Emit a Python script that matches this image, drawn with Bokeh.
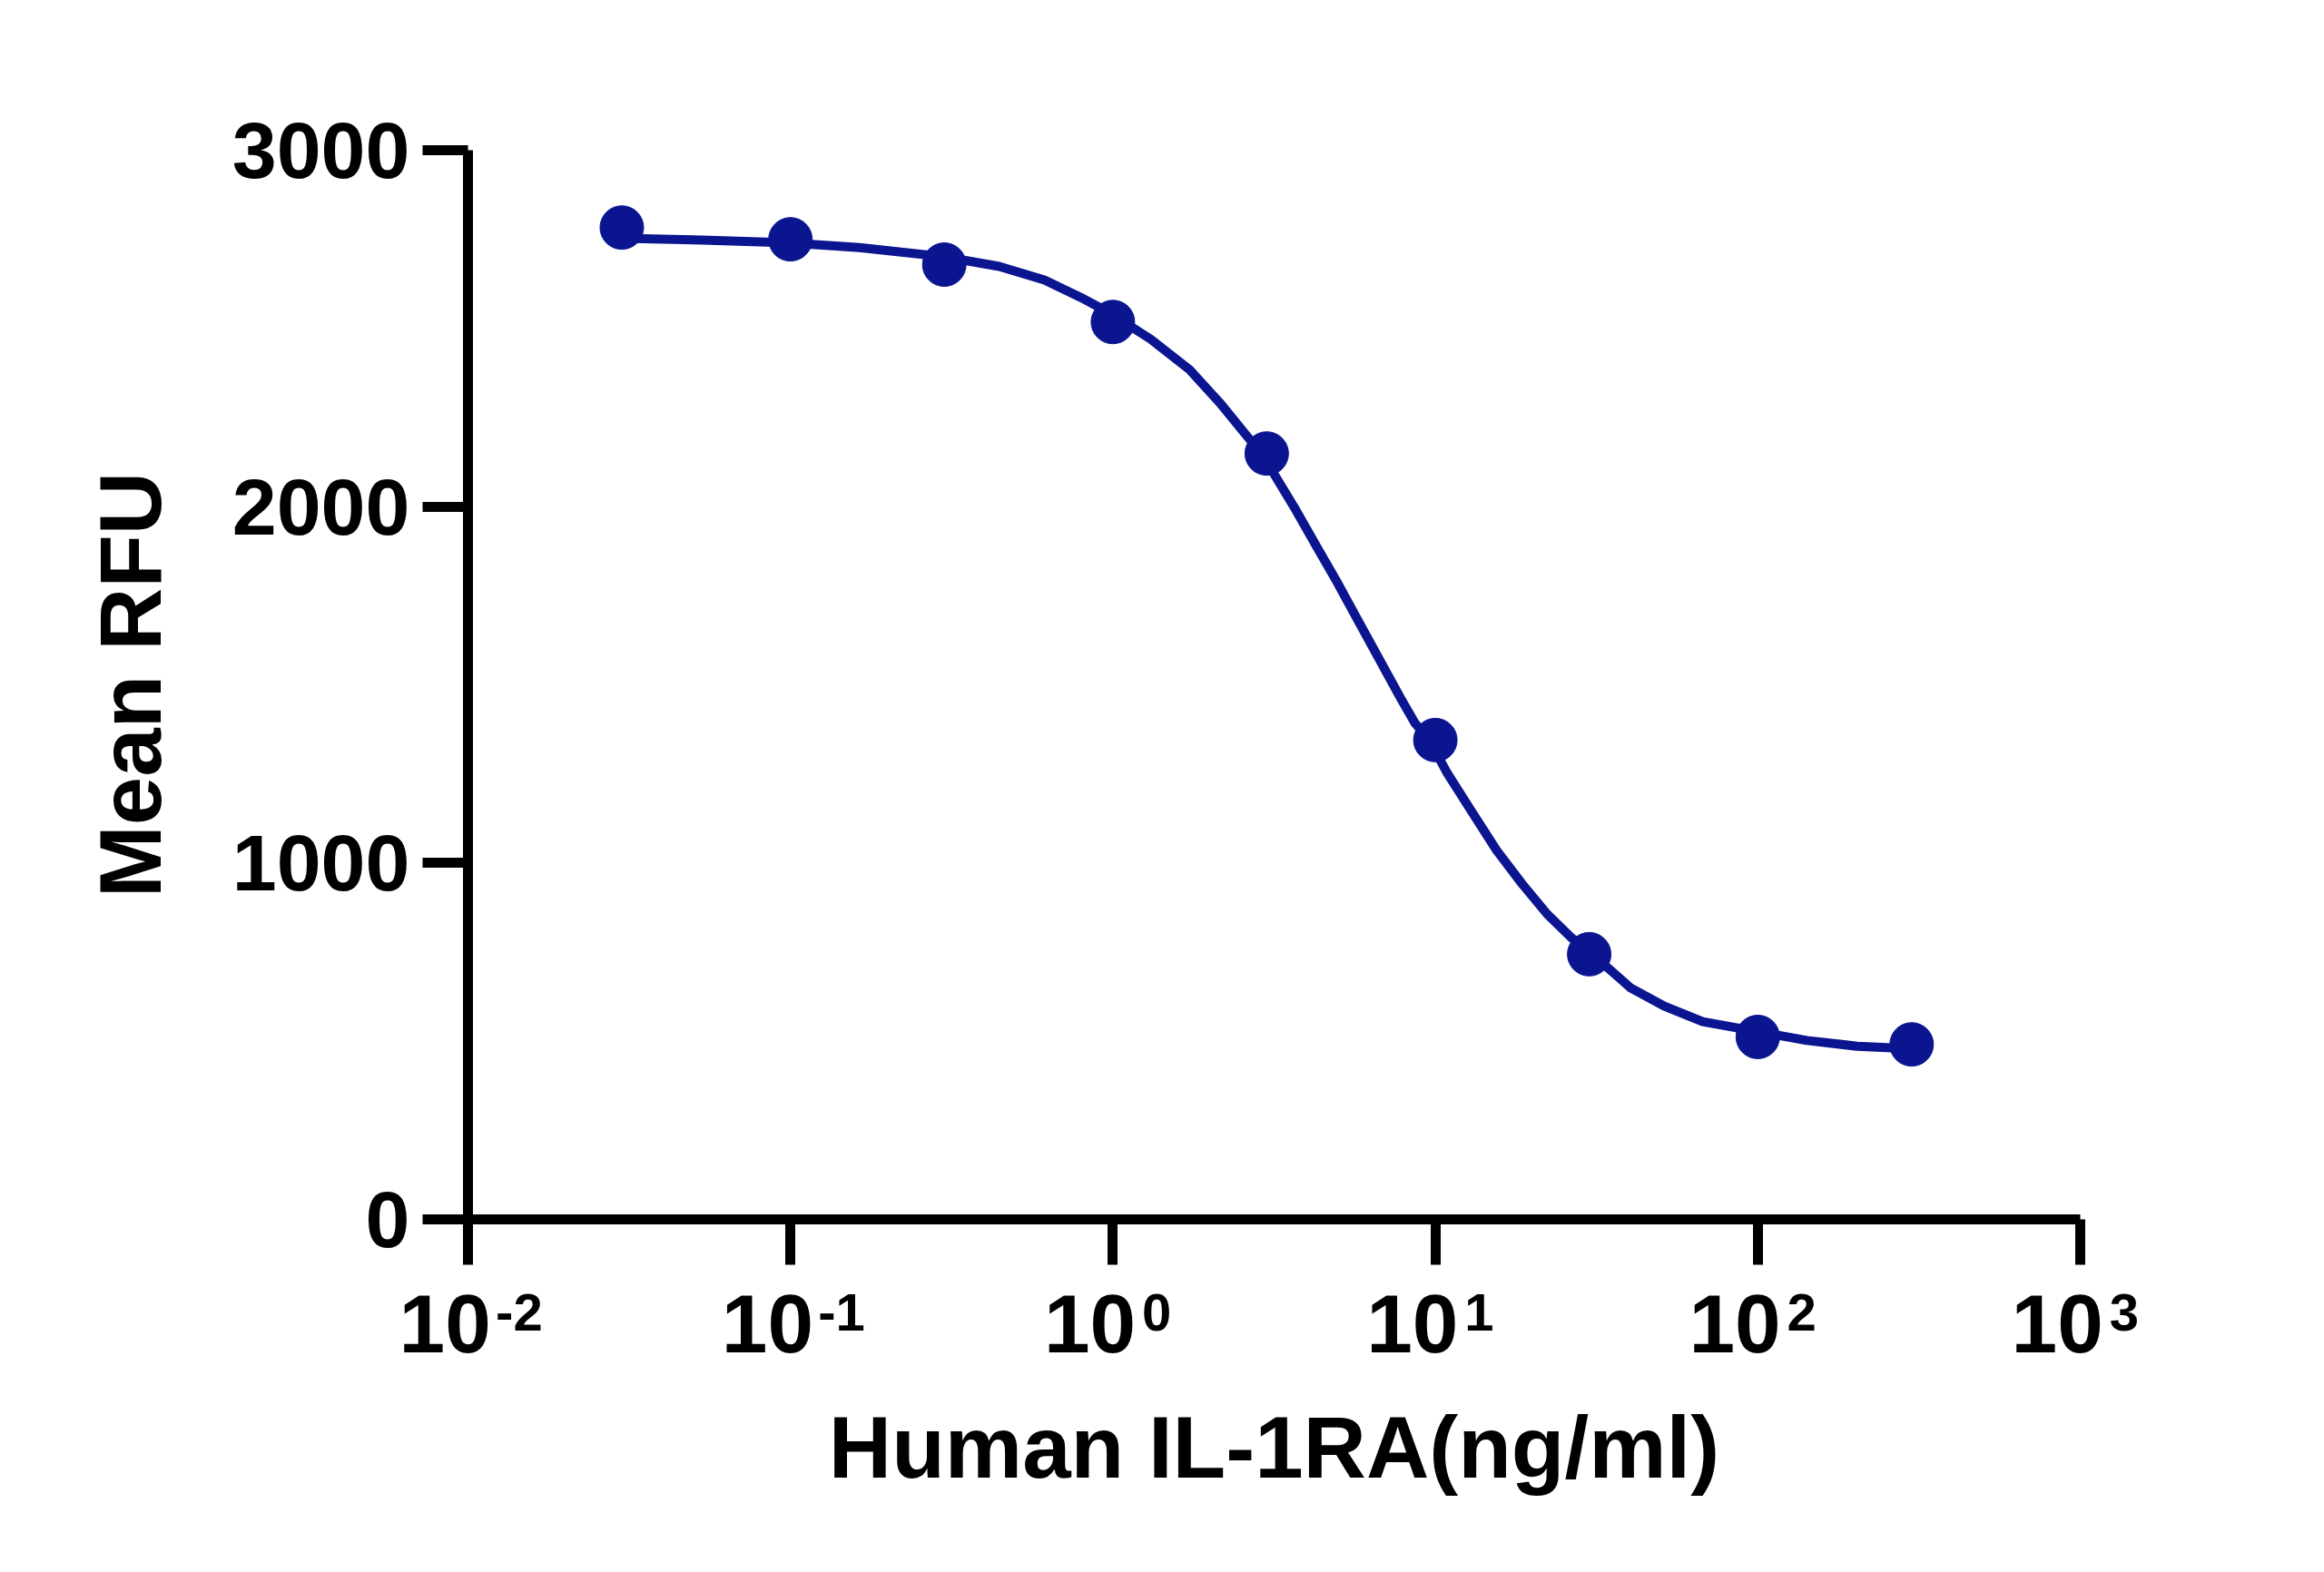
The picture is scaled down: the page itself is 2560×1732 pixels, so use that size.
from bokeh.plotting import figure
from bokeh.models import FixedTicker, Range1d, LogAxis
from bokeh.embed import file_html
from bokeh.resources import INLINE

# ---- data ----
conc = [0.03, 0.1, 0.3, 1, 3, 10, 30, 100, 300]
mean_rfu = [2783, 2750, 2679, 2518, 2149, 1345, 744, 512, 491]

# fitted curve, sampled along the drawn line
curve_x = [0.03, 0.0532, 0.098, 0.1634, 0.295, 0.4436, 0.6134, 0.795, 0.966,
           1.309, 1.730, 2.143, 2.604, 2.906, 3.082, 3.646, 4.288, 4.980,
           5.777, 6.708, 7.787, 8.638, 9.58, 10.84, 12.99, 15.48, 18.56,
           22.26, 26.51, 28.48, 40.41, 51.36, 67.44, 95.7, 142.1, 203, 300]
curve_y = [2753, 2748, 2740, 2727, 2702, 2674, 2636, 2587, 2546,
           2470, 2384, 2292, 2198, 2147, 2108, 1999, 1887, 1785,
           1678, 1571, 1464, 1393, 1345, 1255, 1143, 1036, 942,
           856, 789, 769, 649, 598, 555, 530, 502, 486, 479]

y_ticks = [0, 1000, 2000, 3000]
x_ticks = [0.01, 0.1, 1, 10, 100, 1000]
x_tick_base = ["10", "10", "10", "10", "10", "10"]
x_tick_exp = ["-2", "-1", "0", "1", "2", "3"]

x_title = "Human IL-1RA(ng/ml)"
y_title = "Mean RFU"

COLOR = "#0B1590"
FONT = "Liberation Sans"
NBSP = "\u00a0"

W, H = 2556, 1728
FL, FT, FW, FH = 515, 165, 1776, 1178

p = figure(width=W, height=H, x_axis_type="log",
           x_range=Range1d(0.01, 1000), y_range=Range1d(0, 3000),
           output_backend="svg", toolbar_location=None,
           min_border_left=FL, min_border_top=FT,
           min_border_right=W - FL - FW, min_border_bottom=H - FT - FH)
p.outline_line_color = None
p.xgrid.visible = False
p.ygrid.visible = False
p.background_fill_color = "white"
p.border_fill_color = "white"

for ax in (p.xaxis[0], p.yaxis[0]):
    ax.axis_line_width = 11
    ax.axis_line_color = "black"
    ax.major_tick_line_width = 11
    ax.major_tick_line_color = "black"
    ax.major_tick_out = 50
    ax.major_tick_in = 0
    ax.minor_tick_out = 0
    ax.minor_tick_in = 0
    ax.major_label_text_font = FONT
    ax.major_label_text_font_style = "bold"
    ax.major_label_text_color = "black"

# y axis
ya = p.yaxis[0]
ya.ticker = FixedTicker(ticks=y_ticks, minor_ticks=[])
ya.major_label_text_font_size = "88px"
ya.major_label_standoff = 14
ya.axis_label = y_title
ya.axis_label_standoff = 56
ya.axis_label_text_font = FONT
ya.axis_label_text_font_style = "bold"
ya.axis_label_text_font_size = "96px"
ya.axis_label_text_color = "black"

# x axis: line + tick marks only
xa = p.xaxis[0]
xa.ticker = FixedTicker(ticks=x_ticks, minor_ticks=[])
xa.major_label_overrides = {t: "" for t in x_ticks}
xa.major_label_text_font_size = "0px"
xa.major_label_standoff = 0

# x tick labels "10" + superscript exponent, drawn by two label-only axes;
# no-break spaces shift each part off the tick centre
base_over = {t: b + NBSP * 2 for t, b in zip(x_ticks, x_tick_base)}
sup_over = {t: NBSP * (7 if len(e) > 1 else 6) + e for t, e in zip(x_ticks, x_tick_exp)}

def label_axis(over, fs, standoff):
    a = LogAxis(ticker=FixedTicker(ticks=x_ticks, minor_ticks=[]))
    a.major_label_overrides = over
    a.axis_line_color = None
    a.major_tick_line_color = None
    a.major_tick_out = 0
    a.major_tick_in = 0
    a.minor_tick_out = 0
    a.minor_tick_in = 0
    a.major_label_text_font = FONT
    a.major_label_text_font_style = "bold"
    a.major_label_text_font_size = f"{fs}px"
    a.major_label_text_color = "black"
    a.major_label_standoff = standoff
    return a

base_axis = label_axis(base_over, 91, 14)
sup_axis = label_axis(sup_over, 58, -99)
sup_axis.axis_label = x_title
sup_axis.axis_label_standoff = 60
sup_axis.axis_label_text_font = FONT
sup_axis.axis_label_text_font_style = "bold"
sup_axis.axis_label_text_font_size = "96px"
sup_axis.axis_label_text_color = "black"
p.add_layout(base_axis, "below")
p.add_layout(sup_axis, "below")

# curve and points
p.line(curve_x, curve_y, line_color=COLOR, line_width=10, line_join="round", line_cap="round")
p.scatter(conc, mean_rfu, size=48, marker="circle", fill_color=COLOR, line_color=COLOR)

open("out.html", "w").write(file_html(p, INLINE))
